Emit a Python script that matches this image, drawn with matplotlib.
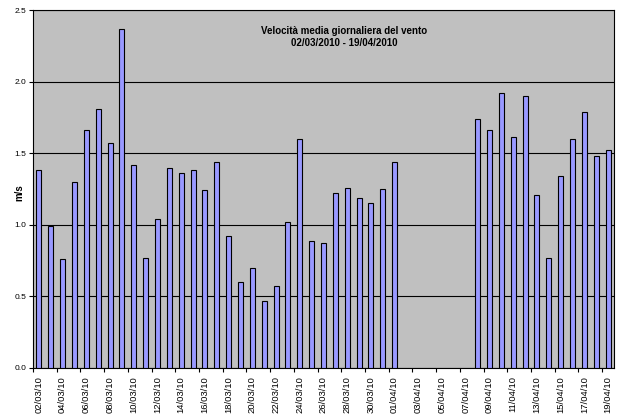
import numpy as np
import matplotlib
matplotlib.use("Agg")
import matplotlib.pyplot as plt
import pandas as pd

plt.rcParams['font.family'] = ['Liberation Sans', 'DejaVu Sans']

# Daily mean wind speed (m/s), 02/03/2010 - 19/04/2010; None = no data
days = pd.date_range("2010-03-02", "2010-04-19", freq="D")
speed = [1.38, 0.99, 0.76, 1.30, 1.66, 1.81, 1.57, 2.37, 1.42, 0.77,
         1.04, 1.40, 1.36, 1.38, 1.24, 1.44, 0.92, 0.60, 0.70, 0.47,
         0.57, 1.02, 1.60, 0.89, 0.87, 1.22, 1.26, 1.19, 1.15, 1.25,
         1.44, None, None, None, None, None, None, 1.74, 1.66, 1.92,
         1.61, 1.90, 1.21, 0.77, 1.34, 1.60, 1.79, 1.48, 1.52]
tick_labels = [d.strftime("%d/%m/%y") for d in days]

fig = plt.figure(figsize=(6.21, 4.15), dpi=100)
ax = fig.add_axes([0.0531, 0.1133, 0.9356, 0.8626])
ax.set_facecolor("#C0C0C0")

x = np.arange(len(days))
mask = [v is not None for v in speed]
xs = x[mask]
vals = [v for v in speed if v is not None]
ax.bar(xs, vals, width=0.42, color="#9999FF", edgecolor="black",
       linewidth=0.8, zorder=3)

# horizontal gridlines
ax.set_ylim(0, 2.5)
ax.set_yticks(np.arange(0, 2.51, 0.5))
ax.set_yticklabels([f"{v:.1f}" for v in np.arange(0, 2.51, 0.5)], fontsize=6)
ax.yaxis.grid(True, color="black", linewidth=0.8, zorder=1)
ax.set_axisbelow(True)

ax.set_xlim(-0.5, len(days) - 0.5)
ax.set_xticks(x[::2])
ax.set_xticklabels(tick_labels[::2], rotation=90, fontsize=6.8)
ax.tick_params(axis="x", length=0, pad=6)
ax.set_xticks(np.arange(-0.5, len(days), 2), minor=True)
ax.tick_params(axis="x", which="minor", length=3, width=0.8, direction="out")
ax.tick_params(axis="y", length=3, width=0.8, direction="out", pad=2)

for s in ax.spines.values():
    s.set_linewidth(0.8)
    s.set_color("black")

ax.text(-0.023, 0.49, "m/s", transform=ax.transAxes, rotation=90,
        ha="center", va="center", fontsize=7, fontweight="bold")

ax.text(0.536, 0.955, "Velocità media giornaliera del vento\n02/03/2010 - 19/04/2010",
        transform=ax.transAxes, ha="center", va="top", fontsize=7,
        fontweight="bold", linespacing=1.2)

fig.savefig("out.png", dpi=100)
